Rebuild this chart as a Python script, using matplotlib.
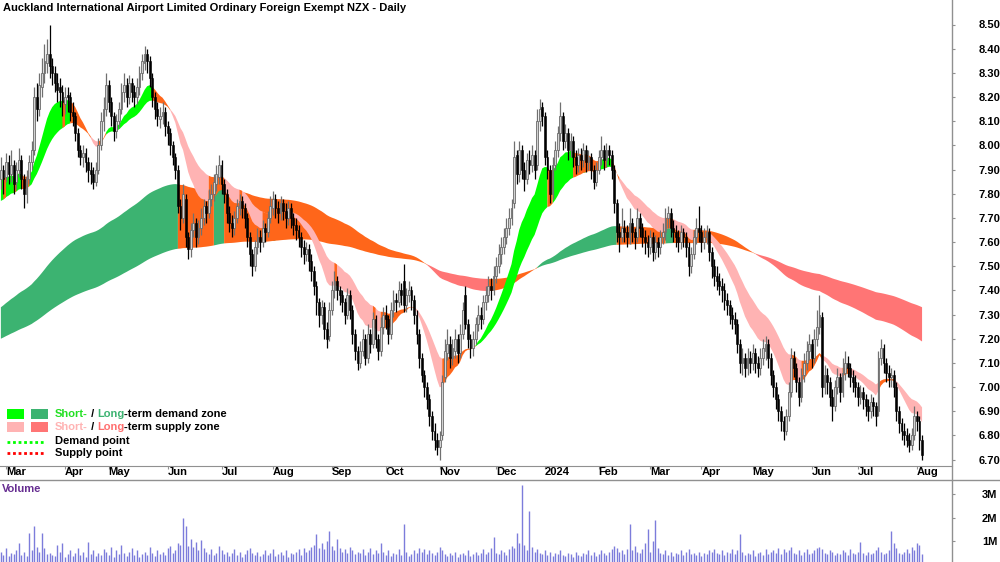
import numpy as np
import pandas as pd
import matplotlib
matplotlib.use("Agg")
import matplotlib.pyplot as plt
import matplotlib.transforms as mtransforms
from matplotlib.patches import Rectangle
from matplotlib.ticker import FuncFormatter

plt.rcParams['font.family'] = ['Liberation Sans Narrow', 'Liberation Sans', 'DejaVu Sans']
plt.rcParams['font.weight'] = 'bold'

title = "Auckland International Airport Limited Ordinary Foreign Exempt NZX - Daily"

# trading calendar (NZX)
start_date = "2023-02-27"
end_date = "2024-08-05"
nzx_holidays = ["2023-04-07", "2023-04-10", "2023-04-25", "2023-06-05", "2023-07-14",
                "2023-10-23", "2023-12-25", "2023-12-26", "2024-01-01", "2024-01-02",
                "2024-02-06", "2024-03-29", "2024-04-01", "2024-04-25", "2024-06-03",
                "2024-06-28"]

# daily prices (NZD)
close = [
    7.90, 7.86, 7.93, 7.88, 7.92, 7.84, 7.90, 7.94, 7.86, 7.80,
    7.87, 7.93, 7.98, 8.20, 8.15, 8.25, 8.30, 8.35, 8.38, 8.33,
    8.30, 8.26, 8.23, 8.22, 8.18, 8.20, 8.20, 8.14, 8.12, 8.05,
    7.98, 7.95, 7.97, 7.93, 7.90, 7.88, 7.85, 7.90, 8.00, 8.10,
    8.15, 8.25, 8.18, 8.12, 8.06, 8.10, 8.15, 8.22, 8.25, 8.20,
    8.26, 8.22, 8.20, 8.24, 8.30, 8.35, 8.38, 8.35, 8.28, 8.20,
    8.15, 8.12, 8.12, 8.14, 8.08, 8.05, 8.00, 7.95, 7.90, 7.75,
    7.70, 7.80, 7.62, 7.57, 7.65, 7.68, 7.62, 7.66, 7.70, 7.75,
    7.72, 7.78, 7.80, 7.85, 7.88, 7.92, 7.84, 7.80, 7.72, 7.68,
    7.66, 7.70, 7.75, 7.77, 7.74, 7.70, 7.62, 7.55, 7.50, 7.58,
    7.62, 7.60, 7.66, 7.64, 7.70, 7.75, 7.78, 7.74, 7.72, 7.76,
    7.73, 7.70, 7.74, 7.70, 7.67, 7.65, 7.62, 7.58, 7.55, 7.57,
    7.52, 7.48, 7.42, 7.35, 7.30, 7.33, 7.24, 7.20, 7.32, 7.40,
    7.44, 7.40, 7.38, 7.35, 7.30, 7.38, 7.32, 7.22, 7.15, 7.10,
    7.15, 7.20, 7.12, 7.22, 7.18, 7.28, 7.20, 7.15, 7.25, 7.30,
    7.28, 7.22, 7.32, 7.36, 7.35, 7.40, 7.38, 7.34, 7.38, 7.40,
    7.36, 7.30, 7.22, 7.12, 7.05, 7.00, 6.95, 6.88, 6.82, 6.78,
    6.75, 6.78, 7.02, 7.15, 7.18, 7.12, 7.16, 7.20, 7.14, 7.22,
    7.32, 7.26, 7.20, 7.16, 7.20, 7.26, 7.30, 7.28, 7.35, 7.38,
    7.42, 7.40, 7.46, 7.50, 7.55, 7.58, 7.62, 7.66, 7.70, 7.74,
    7.95, 7.88, 7.98, 7.90, 7.86, 7.94, 7.92, 7.96, 7.90, 8.10,
    8.15, 8.12, 7.95, 7.90, 7.80, 7.92, 7.98, 8.05, 8.12, 8.02,
    8.05, 7.98, 8.02, 7.95, 7.92, 7.96, 7.94, 7.98, 7.93, 7.95,
    7.90, 7.85, 7.90, 7.95, 7.98, 7.94, 7.98, 7.96, 7.90, 7.76,
    7.64, 7.62, 7.66, 7.64, 7.62, 7.68, 7.64, 7.62, 7.70, 7.66,
    7.62, 7.60, 7.58, 7.62, 7.56, 7.60, 7.58, 7.62, 7.64, 7.70,
    7.72, 7.66, 7.64, 7.62, 7.60, 7.64, 7.62, 7.58, 7.50, 7.55,
    7.62, 7.66, 7.64, 7.60, 7.62, 7.64, 7.56, 7.50, 7.46, 7.44,
    7.42, 7.40, 7.36, 7.34, 7.30, 7.28, 7.26, 7.18, 7.10, 7.12,
    7.08, 7.12, 7.10, 7.14, 7.10, 7.08, 7.12, 7.16, 7.18, 7.12,
    7.05, 7.00, 6.95, 6.90, 6.86, 6.82, 6.88, 6.98, 7.12, 7.08,
    7.02, 6.96, 7.05, 7.10, 7.15, 7.18, 7.12, 7.20, 7.25, 7.30,
    7.00, 7.05, 7.02, 6.96, 6.92, 7.00, 7.04, 6.98, 7.06, 7.10,
    7.08, 7.04, 7.02, 7.00, 6.96, 6.98, 6.95, 6.92, 6.90, 6.94,
    6.92, 6.88, 7.12, 7.16, 7.10, 7.06, 7.04, 7.05, 7.00, 6.90,
    6.85, 6.82, 6.80, 6.78, 6.76, 6.80, 6.88, 6.86, 6.78, 6.72,
]
open_ = [
    7.86, 7.90, 7.87, 7.93, 7.88, 7.92, 7.85, 7.90, 7.94, 7.86,
    7.80, 7.86, 7.93, 7.98, 8.20, 8.15, 8.24, 8.30, 8.34, 8.38,
    8.33, 8.30, 8.26, 8.24, 8.22, 8.17, 8.21, 8.20, 8.14, 8.12,
    8.05, 7.98, 7.95, 7.97, 7.93, 7.90, 7.88, 7.85, 7.90, 8.00,
    8.10, 8.15, 8.25, 8.18, 8.12, 8.06, 8.10, 8.15, 8.22, 8.25,
    8.20, 8.26, 8.22, 8.20, 8.24, 8.30, 8.34, 8.38, 8.35, 8.28,
    8.20, 8.15, 8.11, 8.12, 8.14, 8.08, 8.05, 8.00, 7.95, 7.90,
    7.75, 7.70, 7.78, 7.62, 7.57, 7.65, 7.68, 7.62, 7.66, 7.70,
    7.75, 7.72, 7.78, 7.80, 7.84, 7.87, 7.92, 7.84, 7.80, 7.72,
    7.68, 7.66, 7.70, 7.74, 7.77, 7.74, 7.70, 7.62, 7.55, 7.50,
    7.58, 7.62, 7.60, 7.66, 7.64, 7.70, 7.74, 7.78, 7.74, 7.72,
    7.76, 7.73, 7.70, 7.74, 7.70, 7.67, 7.65, 7.62, 7.58, 7.55,
    7.57, 7.52, 7.48, 7.42, 7.35, 7.30, 7.33, 7.24, 7.21, 7.32,
    7.40, 7.44, 7.40, 7.38, 7.35, 7.30, 7.38, 7.32, 7.22, 7.15,
    7.10, 7.15, 7.20, 7.12, 7.22, 7.18, 7.28, 7.20, 7.15, 7.25,
    7.30, 7.28, 7.22, 7.32, 7.36, 7.35, 7.40, 7.44, 7.34, 7.38,
    7.40, 7.36, 7.30, 7.22, 7.12, 7.05, 7.00, 6.95, 6.88, 6.82,
    6.78, 6.75, 6.80, 7.04, 7.14, 7.18, 7.12, 7.15, 7.20, 7.14,
    7.22, 7.38, 7.26, 7.20, 7.16, 7.20, 7.26, 7.30, 7.28, 7.35,
    7.38, 7.42, 7.40, 7.46, 7.50, 7.55, 7.58, 7.62, 7.66, 7.70,
    7.76, 7.96, 7.88, 7.98, 7.90, 7.86, 7.94, 7.92, 7.96, 7.92,
    8.10, 8.16, 8.12, 7.95, 7.90, 7.80, 7.92, 7.98, 8.05, 8.12,
    8.02, 8.05, 7.98, 8.02, 7.95, 7.92, 7.96, 7.94, 7.98, 7.93,
    7.95, 7.90, 7.85, 7.90, 7.95, 7.98, 7.94, 7.98, 7.96, 7.90,
    7.76, 7.64, 7.62, 7.66, 7.64, 7.62, 7.68, 7.64, 7.62, 7.70,
    7.66, 7.62, 7.60, 7.58, 7.62, 7.56, 7.60, 7.58, 7.62, 7.64,
    7.70, 7.72, 7.66, 7.64, 7.62, 7.60, 7.64, 7.62, 7.58, 7.50,
    7.55, 7.62, 7.66, 7.64, 7.60, 7.62, 7.64, 7.56, 7.50, 7.46,
    7.44, 7.42, 7.40, 7.36, 7.34, 7.30, 7.28, 7.26, 7.18, 7.10,
    7.12, 7.08, 7.12, 7.10, 7.14, 7.10, 7.08, 7.12, 7.15, 7.18,
    7.12, 7.05, 7.00, 6.95, 6.90, 6.86, 6.82, 6.88, 6.98, 7.12,
    7.08, 7.02, 6.96, 7.05, 7.10, 7.15, 7.18, 7.12, 7.20, 7.25,
    7.29, 7.00, 7.05, 7.02, 6.96, 6.92, 7.00, 7.04, 6.98, 7.06,
    7.10, 7.08, 7.04, 7.02, 7.00, 6.96, 6.98, 6.95, 6.92, 6.90,
    6.94, 6.92, 6.90, 7.12, 7.16, 7.10, 7.06, 7.04, 7.05, 7.00,
    6.90, 6.85, 6.82, 6.80, 6.78, 6.76, 6.80, 6.88, 6.86, 6.78,
]
high = [
    7.95, 7.92, 7.97, 7.96, 7.98, 7.94, 7.93, 7.99, 7.96, 7.88,
    7.90, 7.96, 8.02, 8.24, 8.26, 8.30, 8.36, 8.42, 8.44, 8.50,
    8.36, 8.33, 8.30, 8.28, 8.25, 8.24, 8.24, 8.22, 8.18, 8.14,
    8.07, 8.00, 8.00, 7.99, 7.95, 7.93, 7.91, 7.93, 8.03, 8.14,
    8.20, 8.30, 8.27, 8.20, 8.14, 8.13, 8.18, 8.26, 8.30, 8.28,
    8.29, 8.28, 8.25, 8.28, 8.33, 8.38, 8.41, 8.40, 8.37, 8.30,
    8.22, 8.18, 8.16, 8.18, 8.16, 8.10, 8.07, 8.02, 7.97, 7.92,
    7.78, 7.84, 7.80, 7.64, 7.68, 7.72, 7.70, 7.69, 7.74, 7.78,
    7.77, 7.82, 7.84, 7.88, 7.92, 7.96, 7.94, 7.86, 7.82, 7.75,
    7.71, 7.73, 7.78, 7.80, 7.79, 7.76, 7.72, 7.64, 7.57, 7.61,
    7.66, 7.65, 7.69, 7.68, 7.73, 7.79, 7.81, 7.80, 7.77, 7.79,
    7.78, 7.76, 7.77, 7.76, 7.72, 7.70, 7.67, 7.64, 7.61, 7.60,
    7.59, 7.55, 7.50, 7.44, 7.37, 7.36, 7.35, 7.27, 7.35, 7.44,
    7.48, 7.46, 7.42, 7.40, 7.37, 7.41, 7.40, 7.34, 7.24, 7.17,
    7.19, 7.24, 7.22, 7.26, 7.24, 7.31, 7.30, 7.22, 7.29, 7.33,
    7.34, 7.30, 7.35, 7.40, 7.39, 7.44, 7.43, 7.51, 7.41, 7.44,
    7.42, 7.38, 7.32, 7.24, 7.14, 7.07, 7.02, 6.97, 6.90, 6.85,
    6.81, 6.82, 7.05, 7.20, 7.24, 7.21, 7.20, 7.24, 7.22, 7.26,
    7.35, 7.42, 7.28, 7.22, 7.23, 7.29, 7.34, 7.33, 7.38, 7.42,
    7.46, 7.45, 7.50, 7.54, 7.59, 7.62, 7.66, 7.70, 7.74, 7.78,
    8.02, 7.98, 8.02, 8.00, 7.93, 7.97, 7.98, 8.00, 7.98, 8.15,
    8.19, 8.18, 8.14, 7.98, 7.92, 7.95, 8.02, 8.08, 8.18, 8.14,
    8.09, 8.07, 8.05, 8.04, 7.98, 7.99, 7.99, 8.01, 8.00, 7.98,
    7.97, 7.92, 7.93, 7.98, 8.04, 8.00, 8.01, 8.00, 7.98, 7.92,
    7.78, 7.68, 7.74, 7.69, 7.67, 7.74, 7.70, 7.66, 7.74, 7.72,
    7.68, 7.65, 7.63, 7.65, 7.64, 7.63, 7.62, 7.65, 7.68, 7.74,
    7.75, 7.74, 7.69, 7.67, 7.65, 7.67, 7.66, 7.64, 7.60, 7.58,
    7.65, 7.70, 7.75, 7.67, 7.66, 7.67, 7.66, 7.58, 7.53, 7.50,
    7.47, 7.45, 7.43, 7.39, 7.36, 7.33, 7.31, 7.28, 7.20, 7.16,
    7.14, 7.16, 7.15, 7.18, 7.16, 7.13, 7.16, 7.20, 7.21, 7.20,
    7.14, 7.07, 7.02, 6.97, 6.92, 6.88, 6.91, 7.02, 7.16, 7.15,
    7.10, 7.04, 7.08, 7.14, 7.19, 7.22, 7.20, 7.24, 7.32, 7.38,
    7.31, 7.09, 7.08, 7.04, 6.99, 7.03, 7.08, 7.06, 7.12, 7.15,
    7.13, 7.10, 7.07, 7.05, 7.02, 7.01, 7.00, 6.97, 6.95, 6.97,
    6.96, 6.94, 7.15, 7.20, 7.18, 7.12, 7.09, 7.08, 7.07, 7.02,
    6.92, 6.87, 6.85, 6.83, 6.81, 6.83, 6.92, 6.90, 6.88, 6.80,
]
low = [
    7.82, 7.80, 7.85, 7.84, 7.85, 7.80, 7.82, 7.87, 7.82, 7.74,
    7.76, 7.84, 7.90, 7.96, 8.10, 8.12, 8.20, 8.26, 8.30, 8.28,
    8.25, 8.22, 8.18, 8.16, 8.12, 8.13, 8.14, 8.10, 8.08, 8.02,
    7.95, 7.92, 7.91, 7.89, 7.85, 7.84, 7.82, 7.83, 7.88, 7.98,
    8.06, 8.12, 8.14, 8.08, 8.02, 8.03, 8.07, 8.13, 8.18, 8.16,
    8.17, 8.18, 8.16, 8.17, 8.21, 8.27, 8.31, 8.30, 8.24, 8.16,
    8.11, 8.08, 8.07, 8.09, 8.04, 8.00, 7.96, 7.92, 7.86, 7.72,
    7.65, 7.68, 7.58, 7.53, 7.54, 7.62, 7.58, 7.59, 7.63, 7.67,
    7.68, 7.70, 7.75, 7.77, 7.81, 7.84, 7.80, 7.76, 7.68, 7.64,
    7.62, 7.63, 7.68, 7.71, 7.70, 7.66, 7.58, 7.50, 7.46, 7.48,
    7.55, 7.56, 7.58, 7.60, 7.62, 7.68, 7.71, 7.70, 7.68, 7.69,
    7.69, 7.66, 7.67, 7.66, 7.63, 7.61, 7.58, 7.54, 7.51, 7.52,
    7.48, 7.44, 7.38, 7.30, 7.25, 7.26, 7.20, 7.16, 7.19, 7.30,
    7.37, 7.36, 7.34, 7.31, 7.26, 7.28, 7.28, 7.18, 7.11, 7.07,
    7.08, 7.13, 7.09, 7.10, 7.14, 7.16, 7.16, 7.11, 7.13, 7.22,
    7.24, 7.18, 7.20, 7.29, 7.31, 7.33, 7.34, 7.31, 7.31, 7.35,
    7.32, 7.26, 7.18, 7.08, 7.02, 6.96, 6.91, 6.84, 6.78, 6.74,
    6.72, 6.70, 6.78, 7.02, 7.11, 7.08, 7.09, 7.12, 7.10, 7.12,
    7.20, 7.24, 7.16, 7.12, 7.13, 7.18, 7.23, 7.24, 7.26, 7.32,
    7.35, 7.36, 7.38, 7.43, 7.47, 7.51, 7.55, 7.59, 7.63, 7.67,
    7.74, 7.84, 7.85, 7.86, 7.81, 7.84, 7.88, 7.89, 7.86, 7.90,
    8.06, 8.08, 7.92, 7.86, 7.76, 7.78, 7.90, 7.95, 8.02, 7.98,
    7.99, 7.94, 7.95, 7.91, 7.88, 7.89, 7.90, 7.91, 7.89, 7.90,
    7.86, 7.82, 7.83, 7.88, 7.92, 7.90, 7.91, 7.92, 7.86, 7.72,
    7.60, 7.56, 7.60, 7.60, 7.58, 7.59, 7.60, 7.57, 7.60, 7.62,
    7.58, 7.55, 7.54, 7.55, 7.52, 7.53, 7.54, 7.55, 7.59, 7.61,
    7.66, 7.62, 7.60, 7.58, 7.56, 7.57, 7.58, 7.54, 7.46, 7.47,
    7.53, 7.59, 7.60, 7.56, 7.57, 7.59, 7.52, 7.45, 7.42, 7.40,
    7.38, 7.35, 7.32, 7.30, 7.26, 7.24, 7.22, 7.14, 7.06, 7.05,
    7.04, 7.05, 7.06, 7.07, 7.06, 7.04, 7.05, 7.09, 7.11, 7.08,
    7.01, 6.96, 6.91, 6.86, 6.82, 6.78, 6.80, 6.86, 6.96, 7.04,
    6.98, 6.92, 6.94, 7.02, 7.07, 7.11, 7.08, 7.10, 7.17, 7.22,
    6.96, 6.97, 6.97, 6.92, 6.86, 6.90, 6.97, 6.94, 6.96, 7.03,
    7.04, 7.00, 6.98, 6.96, 6.92, 6.93, 6.91, 6.88, 6.86, 6.87,
    6.88, 6.84, 6.88, 7.09, 7.06, 7.02, 7.00, 7.00, 6.96, 6.86,
    6.81, 6.78, 6.76, 6.75, 6.73, 6.74, 6.78, 6.82, 6.74, 6.70,
]
# daily volume, millions of shares
volume_m = [
    0.55, 0.40, 0.70, 0.35, 0.50, 0.45, 0.60, 0.90, 0.40, 0.55, 0.35, 1.34, 0.60, 1.64, 0.75, 0.55, 1.34, 0.70, 0.45, 0.50,
    0.40, 0.35, 0.85, 0.55, 0.90, 0.30, 0.45, 0.60, 0.35, 0.50, 0.70, 0.40, 0.55, 0.30, 0.95, 0.45, 0.60, 0.35, 0.50, 0.40,
    0.65, 0.55, 0.40, 0.75, 0.30, 0.60, 0.45, 0.85, 0.50, 0.35, 0.55, 0.70, 0.40, 0.60, 0.30, 0.45, 0.55, 0.40, 0.75, 0.50,
    0.35, 0.60, 0.45, 0.55, 0.40, 0.70, 0.80, 0.50, 0.60, 0.90, 0.85, 2.00, 1.64, 0.80, 1.10, 0.75, 0.95, 0.60, 1.05, 0.70,
    0.55, 0.45, 0.65, 0.40, 0.50, 0.80, 0.60, 0.45, 0.55, 0.35, 0.50, 0.65, 0.40, 0.55, 0.30, 0.45, 0.60, 0.70, 0.50, 0.40,
    0.55, 0.35, 0.45, 0.60, 0.40, 0.50, 0.65, 0.35, 0.45, 0.55, 0.40, 0.60, 0.30, 0.50, 0.45, 0.55, 0.65, 0.40, 0.70, 0.55,
    0.60, 0.75, 0.85, 1.30, 0.70, 0.90, 0.65, 1.00, 1.44, 0.80, 0.60, 1.10, 0.70, 0.55, 0.65, 0.50, 0.75, 0.60, 0.45, 0.55,
    0.50, 0.65, 0.40, 0.55, 0.70, 0.45, 0.60, 0.50, 0.90, 0.55, 0.40, 0.60, 0.35, 0.50, 0.45, 0.65, 0.40, 1.72, 0.55, 0.35,
    0.45, 0.60, 0.50, 0.70, 0.55, 0.65, 0.45, 0.60, 0.50, 0.40, 0.55, 0.75, 0.60, 0.45, 0.35, 0.50, 0.40, 0.55, 0.30, 0.45,
    0.50, 0.40, 0.60, 0.35, 0.45, 0.55, 0.40, 0.50, 0.65, 0.45, 0.55, 0.70, 1.15, 0.50, 0.45, 0.60, 0.55, 0.40, 0.65, 0.80,
    0.70, 1.36, 0.90, 3.38, 0.85, 0.60, 2.28, 0.75, 0.55, 0.65, 0.50, 0.45, 0.60, 0.40, 0.55, 0.35, 0.50, 0.45, 0.60, 0.40,
    0.35, 0.50, 0.45, 0.30, 0.55, 0.40, 0.35, 0.50, 0.45, 0.60, 0.40, 0.55, 0.35, 0.45, 0.60, 0.50, 0.40, 0.55, 0.65, 0.80,
    0.70, 0.55, 0.60, 0.45, 0.65, 1.72, 0.60, 0.80, 0.55, 0.50, 0.65, 0.90, 1.50, 0.55, 1.00, 1.90, 0.70, 0.50, 0.45, 0.60,
    0.40, 0.55, 0.35, 0.50, 0.45, 0.60, 0.40, 0.55, 0.65, 0.45, 0.50, 0.40, 0.55, 0.35, 0.50, 0.45, 0.60, 0.55, 0.65, 0.50,
    0.45, 0.60, 0.40, 0.55, 0.50, 0.65, 0.45, 0.60, 1.30, 0.55, 0.40, 0.50, 0.45, 0.60, 0.35, 0.50, 0.55, 0.40, 0.65, 0.45,
    0.55, 0.60, 0.50, 0.70, 0.45, 0.65, 0.55, 0.60, 0.75, 0.50, 0.45, 0.60, 0.40, 0.55, 0.65, 0.45, 0.50, 0.60, 0.70, 0.75,
    0.65, 0.50, 0.45, 0.60, 0.55, 0.40, 0.50, 0.45, 0.60, 0.55, 0.40, 0.65, 0.50, 0.45, 0.55, 0.95, 0.50, 0.40, 0.55, 0.45,
    0.50, 0.60, 0.75, 0.55, 0.45, 0.50, 0.60, 1.44, 0.90, 0.70, 0.50, 0.45, 0.55, 0.65, 0.50, 0.75, 0.60, 0.90, 0.85, 0.45,
]

price_ticks = [8.50, 8.40, 8.30, 8.20, 8.10, 8.00, 7.90, 7.80, 7.70, 7.60,
               7.50, 7.40, 7.30, 7.20, 7.10, 7.00, 6.90, 6.80, 6.70]
volume_ticks = [1, 2, 3]

# zone EMAs: (period, value at first bar)
short_fast, short_slow = (15, 7.86), (30, 7.77)
long_fast, long_slow = (130, 7.33), (260, 7.20)

short_colors = ["#00FF00", "#FFB3B3", "#FF661A"]   # demand, supply, neutral
long_colors = ["#3CB371", "#FF7575", "#FF661A"]


def ema(values, period, first):
    a = 2.0 / (period + 1)
    out = np.empty(len(values))
    out[0] = first
    for i in range(1, len(values)):
        out[i] = out[i - 1] + a * (values[i] - out[i - 1])
    return out


def draw_zone(ax, x, fast, slow, colors, z):
    rising = np.r_[True, np.diff(fast) > 0]
    state = np.where((fast >= slow) & rising, 0, np.where((fast < slow) & ~rising, 1, 2))
    lo, hi = np.minimum(fast, slow), np.maximum(fast, slow)
    for s, c in enumerate(colors):
        m = state == s
        m2 = m.copy()
        m2[1:] |= m[:-1]
        ax.fill_between(x, lo, hi, where=m2, color=c, lw=0, zorder=z)


def main():
    dates = pd.bdate_range(start_date, end_date, freq="C", holidays=nzx_holidays)
    o, h, l, c = (np.array(v) for v in (open_, high, low, close))
    n = len(c)
    dates = dates[:n]
    x = np.arange(n)

    fig = plt.figure(figsize=(10, 5.62), dpi=100, facecolor="white")
    W, H = 1000.0, 562.0
    ax = fig.add_axes([0, 1 - 466 / H, 952 / W, 466 / H])
    axv = fig.add_axes([0, 0, 952 / W, 82 / H])

    # zones
    draw_zone(ax, x, ema(c, *long_fast), ema(c, *long_slow), long_colors, 1)
    draw_zone(ax, x, ema(c, *short_fast), ema(c, *short_slow), short_colors, 2)

    # candles
    up = c >= o
    ax.vlines(x[up], l[up], h[up], color="#707070", lw=0.9, zorder=3)
    ax.vlines(x[~up], l[~up], h[~up], color="black", lw=0.9, zorder=3)
    body = np.maximum(np.abs(c - o), 0.005)
    bottom = np.minimum(o, c)
    ax.bar(x[up], body[up], bottom=bottom[up], width=0.72, color="#D2D2D2",
           edgecolor="#6A6A6A", lw=0.6, zorder=4)
    ax.bar(x[~up], body[~up], bottom=bottom[~up], width=0.72, color="black",
           edgecolor="black", lw=0.4, zorder=4)

    x0 = -0.87 / 2.566
    x1 = x0 + 952 / 2.566
    ax.set_xlim(x0, x1)
    ax.set_ylim(8.50 - (466 - 24.5) / 241.7, 8.50 + 24.5 / 241.7)

    # month ticks
    per = dates.to_period("M")
    first = np.r_[False, per[1:] != per[:-1]]
    midx = np.where(first)[0]
    mlab = [str(dates[i].year) if dates[i].month == 1 else dates[i].strftime("%b") for i in midx]
    ax.set_xticks(midx)
    ax.set_xticklabels(mlab, ha="left", fontsize=8, fontweight="bold")
    off = mtransforms.ScaledTranslation(1.5 / 72, 0, fig.dpi_scale_trans)
    for t in ax.get_xticklabels():
        t.set_transform(t.get_transform() + off)
    ax.tick_params(axis="x", direction="out", length=2.5, width=0.8, color="#909090", pad=-1.5)

    ax.yaxis.tick_right()
    ax.set_yticks(price_ticks)
    ax.yaxis.set_major_formatter(FuncFormatter(lambda v, p: f"{v:.2f}"))
    ax.tick_params(axis="y", direction="out", length=2.5, width=0.8, color="#909090",
                   pad=16.5, labelsize=8)
    for s in ["left", "top", "right"]:
        ax.spines[s].set_visible(False)
    ax.spines["bottom"].set_color("#909090")

    # volume
    v = np.array(volume_m)
    axv.vlines(x, 0, v, color="#7C7CDB", lw=1.0)
    axv.set_xlim(x0, x1)
    axv.set_ylim((564.5 - 562) / 23.5, (564.5 - 480) / 23.5)
    axv.set_xticks([])
    axv.yaxis.tick_right()
    axv.set_yticks(volume_ticks)
    axv.yaxis.set_major_formatter(FuncFormatter(lambda val, p: f"{val:.0f}M"))
    axv.tick_params(axis="y", direction="out", length=2.5, width=0.8, color="#909090",
                    pad=19, labelsize=8)
    for s in axv.spines.values():
        s.set_visible(False)

    # overlay in pixel coordinates for frame lines, title and legend
    ov = fig.add_axes([0, 0, 1, 1], facecolor="none")
    ov.set_xlim(0, W)
    ov.set_ylim(H, 0)
    ov.axis("off")
    ov.plot([952, 952], [0, H], color="#909090", lw=1)
    ov.plot([0, W], [480, 480], color="#909090", lw=1)

    ov.text(3, 3, title, ha="left", va="top", fontsize=8, fontweight="bold")
    ov.text(2, 489, "Volume", ha="left", va="center", fontsize=8, fontweight="bold", color="#662D91")

    r = fig.canvas.get_renderer()

    def rich(xp, yp, pieces):
        for s, col in pieces:
            t = ov.text(xp, yp, s, ha="left", va="center", fontsize=8, fontweight="bold", color=col)
            xp += t.get_window_extent(r).width

    ov.add_patch(Rectangle((7, 409), 17, 10, color=short_colors[0], lw=0))
    ov.add_patch(Rectangle((31, 409), 17, 10, color=long_colors[0], lw=0))
    ov.add_patch(Rectangle((7, 422), 17, 10, color=short_colors[1], lw=0))
    ov.add_patch(Rectangle((31, 422), 17, 10, color=long_colors[1], lw=0))
    ov.plot([7, 44], [441.5, 441.5], color="#00FF00", lw=2, ls=(0, (1, 1)))
    ov.plot([7, 44], [452.5, 452.5], color="#FF0000", lw=2, ls=(0, (1, 1)))
    rich(55, 414, [("Short-", "#22E022"), (" / ", "black"), ("Long", long_colors[0]),
                   ("-term demand zone", "black")])
    rich(55, 427, [("Short-", "#FFB3B3"), (" / ", "black"), ("Long", "#FF6F6F"),
                   ("-term supply zone", "black")])
    rich(55, 441, [("Demand point", "black")])
    rich(55, 453, [("Supply point", "black")])

    fig.savefig("out.png", dpi=100, facecolor="white")


if __name__ == "__main__":
    main()
